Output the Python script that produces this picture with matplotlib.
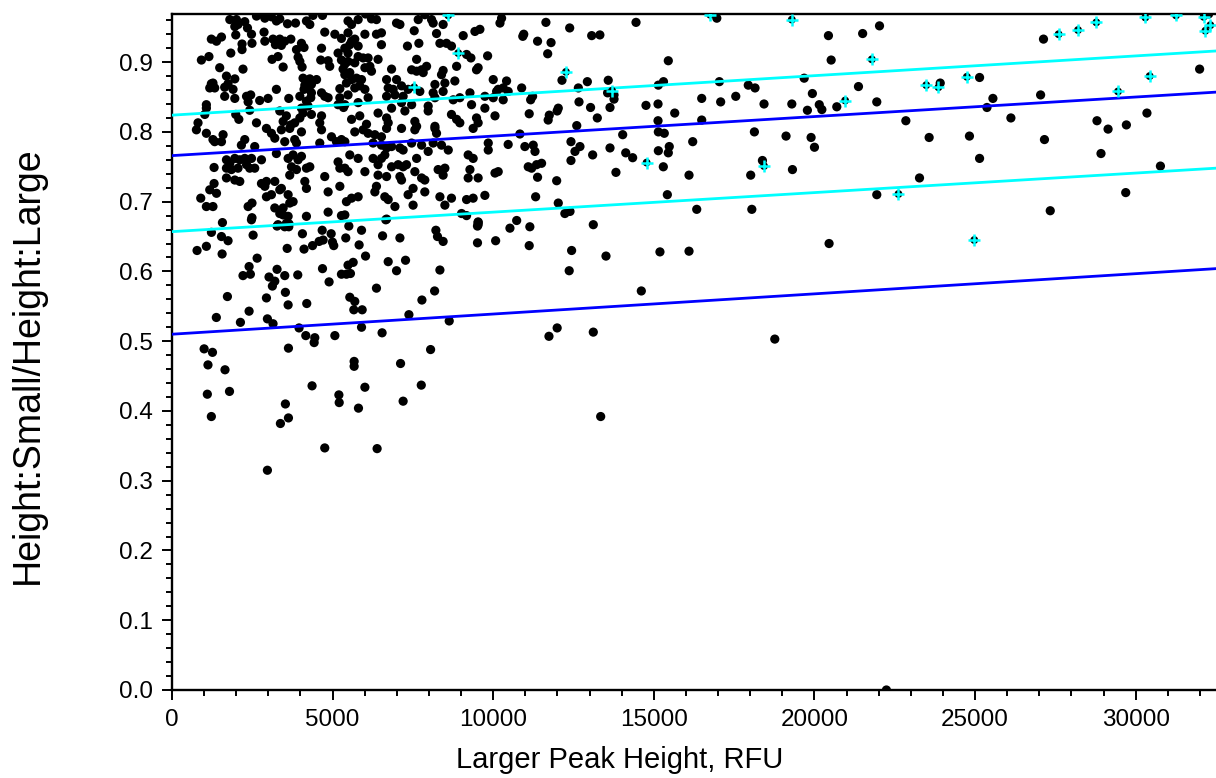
import numpy as np
import matplotlib.pyplot as plt
from matplotlib.ticker import MultipleLocator, FormatStrFormatter

# (larger peak height in RFU, height ratio small/large), grouped by area of the plot
top_left = [
    (1800, 0.961), (2005, 0.961), (2265, 0.958), (2630, 0.966), (2785, 0.969), (2890, 0.963),
    (3095, 0.965), (3250, 0.959), (3355, 0.962), (3595, 0.955), (3845, 0.956), (4185, 0.959),
    (4290, 0.954), (4390, 0.967), (4685, 0.967), (1955, 0.951), (2055, 0.954), (2350, 0.949),
    (2475, 0.940), (1985, 0.939), (1225, 0.933), (1385, 0.930), (1540, 0.936), (2180, 0.926),
    (2180, 0.918), (2490, 0.927), (2865, 0.943), (2890, 0.930), (3145, 0.933), (3355, 0.933),
    (3510, 0.930), (3700, 0.933), (3220, 0.925), (3405, 0.924), (4030, 0.927), (4110, 0.921),
    (3875, 0.918), (4755, 0.943), (4655, 0.920), (5070, 0.940), (5275, 0.934), (1830, 0.913),
    (915, 0.903), (1150, 0.908), (2210, 0.890), (1485, 0.892), (3115, 0.904), (3300, 0.908),
    (3460, 0.893), (3925, 0.907), (3980, 0.901), (4050, 0.893), (4290, 0.876), (4630, 0.903),
    (4860, 0.902), (4910, 0.894), (5170, 0.913), (5275, 0.903), (5325, 0.890), (1695, 0.880),
    (1955, 0.876), (1225, 0.869), (1175, 0.863), (1330, 0.863), (1275, 0.870), (1640, 0.864),
    (1745, 0.869), (1900, 0.861), (1640, 0.851), (1955, 0.848), (1070, 0.839), (1070, 0.834),
    (1020, 0.825), (810, 0.813), (1985, 0.825), (2080, 0.818), (2320, 0.851), (2450, 0.853),
    (2370, 0.843), (2730, 0.845), (2990, 0.848), (2420, 0.831), (2630, 0.813), (3250, 0.861),
    (3355, 0.830), (3560, 0.823), (3635, 0.848), (3820, 0.813), (3700, 0.810), (3980, 0.851),
    (4030, 0.834), (4135, 0.867), (4110, 0.861), (4260, 0.863), (4340, 0.868), (4340, 0.856),
    (4320, 0.849), (4185, 0.844), (4235, 0.837), (4080, 0.827), (4340, 0.825), (4655, 0.856),
    (4755, 0.851), (4860, 0.849), (4655, 0.823), (4600, 0.813), (3980, 0.820), (5225, 0.862),
    (5225, 0.849), (5170, 0.839), (5340, 0.835), (4500, 0.875), (4080, 0.877), (3460, 0.815),
]

top_mid = [
    (6025, 0.969), (5795, 0.961), (5590, 0.954), (5480, 0.959), (6210, 0.962), (6365, 0.961),
    (6990, 0.956), (7095, 0.954), (7665, 0.961), (7870, 0.968), (8080, 0.961), (8130, 0.956),
    (8440, 0.954), (10210, 0.956), (10260, 0.963), (5480, 0.942), (5590, 0.930), (5535, 0.925),
    (5690, 0.933), (6005, 0.940), (6365, 0.940), (6520, 0.942), (6520, 0.925), (5795, 0.923),
    (5380, 0.920), (5480, 0.913), (7540, 0.945), (8235, 0.941), (7330, 0.923), (7685, 0.927),
    (8340, 0.927), (8545, 0.927), (8700, 0.923), (9065, 0.938), (9430, 0.944), (9585, 0.947),
    (9170, 0.911), (9305, 0.906), (9825, 0.909), (5795, 0.908), (5950, 0.906), (6105, 0.906),
    (5480, 0.901), (5690, 0.899), (6160, 0.894), (6005, 0.892), (6210, 0.887), (6415, 0.904),
    (5380, 0.897), (5535, 0.885), (6835, 0.890), (7615, 0.904), (7460, 0.889), (7615, 0.887),
    (7770, 0.889), (7925, 0.894), (7820, 0.885), (8440, 0.888), (8390, 0.882), (8860, 0.894),
    (9530, 0.892), (9480, 0.889), (5380, 0.882), (5430, 0.870), (5590, 0.875), (5745, 0.877),
    (5845, 0.866), (5690, 0.863), (5900, 0.875), (6005, 0.861), (6105, 0.849), (5795, 0.842),
    (5380, 0.839), (6680, 0.875), (6730, 0.863), (6885, 0.861), (6990, 0.875), (7145, 0.866),
    (6680, 0.851), (6940, 0.853), (7350, 0.861), (7715, 0.858), (7145, 0.842), (7460, 0.839),
    (7195, 0.851), (7975, 0.837), (8185, 0.868), (8130, 0.856), (8440, 0.858), (8495, 0.870),
    (8185, 0.849), (8805, 0.873), (8755, 0.846), (8960, 0.849), (9275, 0.856), (9740, 0.851),
    (10000, 0.875), (10000, 0.849), (10155, 0.861), (10310, 0.863), (10465, 0.858), (10105, 0.858),
    (10415, 0.873), (5480, 0.853), (6835, 0.834), (7250, 0.830), (6415, 0.827), (5845, 0.823),
    (5590, 0.818), (6055, 0.811), (6680, 0.820), (6730, 0.813), (7560, 0.815), (7615, 0.808),
    (8185, 0.808), (8700, 0.825), (8860, 0.818), (8960, 0.813), (9325, 0.839), (9740, 0.834),
    (10055, 0.823), (9480, 0.820), (9530, 0.813), (7975, 0.830),
]

middle_left = [
    (760, 0.803), (1070, 0.798), (1275, 0.789), (1330, 0.786), (1590, 0.796), (1540, 0.786),
    (2265, 0.789), (2160, 0.781), (2575, 0.779), (2940, 0.805), (3095, 0.798), (3200, 0.791),
    (3405, 0.803), (3665, 0.805), (3510, 0.786), (3820, 0.789), (4030, 0.800), (3875, 0.784),
    (4655, 0.803), (4965, 0.793), (5120, 0.786), (5275, 0.789), (4600, 0.784), (1310, 0.749),
    (1695, 0.760), (1800, 0.755), (1955, 0.762), (2110, 0.760), (2265, 0.762), (2475, 0.762),
    (1695, 0.748), (1850, 0.746), (2055, 0.748), (2320, 0.753), (2420, 0.748), (1695, 0.734),
    (1955, 0.731), (2110, 0.729), (2575, 0.748), (2785, 0.760), (1310, 0.726), (895, 0.705),
    (1175, 0.717), (1385, 0.712), (1070, 0.693), (1275, 0.693), (3250, 0.769), (3615, 0.762),
    (3770, 0.767), (3925, 0.760), (4030, 0.765), (3720, 0.750), (3875, 0.746), (3665, 0.738),
    (4185, 0.748), (4290, 0.750), (2785, 0.726), (2890, 0.722), (2940, 0.729), (3200, 0.729),
    (3405, 0.719), (3355, 0.717), (2940, 0.707), (3095, 0.710), (3615, 0.710), (3665, 0.698),
    (3770, 0.700), (4135, 0.729), (4185, 0.719), (4755, 0.736), (4860, 0.714), (5225, 0.722),
    (5170, 0.757), (5225, 0.748), (2370, 0.693), (2490, 0.698), (2490, 0.677), (3200, 0.691),
    (3355, 0.683), (3460, 0.691), (3460, 0.681), (3615, 0.679), (3300, 0.667), (3560, 0.669),
    (3635, 0.664), (4185, 0.679), (4860, 0.685), (5275, 0.680),
]

middle_mid = [
    (5690, 0.800), (5950, 0.803), (6105, 0.798), (6315, 0.796), (6520, 0.793), (6680, 0.805),
    (7145, 0.805), (7560, 0.803), (8185, 0.805), (8235, 0.798), (9375, 0.805), (5380, 0.786),
    (6260, 0.784), (6520, 0.781), (6680, 0.777), (6835, 0.779), (7095, 0.777), (7195, 0.774),
    (7460, 0.784), (7770, 0.781), (8130, 0.784), (8390, 0.781), (8600, 0.774), (7975, 0.772),
    (9845, 0.784), (9845, 0.774), (10465, 0.782), (9220, 0.767), (9375, 0.762), (5795, 0.762),
    (5535, 0.767), (6260, 0.762), (6415, 0.753), (6520, 0.762), (6625, 0.767), (6835, 0.750),
    (7040, 0.753), (7195, 0.750), (7300, 0.753), (7615, 0.762), (5380, 0.748), (5480, 0.743),
    (6005, 0.743), (6415, 0.738), (6680, 0.736), (7095, 0.736), (7145, 0.731), (7560, 0.743),
    (7770, 0.734), (7870, 0.731), (8285, 0.746), (8495, 0.748), (8440, 0.738), (9275, 0.746),
    (9220, 0.734), (9530, 0.734), (10055, 0.741), (10155, 0.743), (6365, 0.722), (6315, 0.714),
    (7505, 0.719), (7870, 0.714), (5795, 0.707), (5590, 0.705), (5430, 0.700), (6625, 0.707),
    (6730, 0.703), (7350, 0.710), (6940, 0.693), (7505, 0.695), (8340, 0.707), (8700, 0.705),
    (8495, 0.695), (9170, 0.703), (9375, 0.705), (9740, 0.709), (5380, 0.681), (6680, 0.675),
    (9015, 0.683), (9170, 0.680), (9530, 0.671), (9530, 0.667),
]

lower_left = [
    (1570, 0.670), (2473, 0.674), (1227, 0.656), (1540, 0.650), (1745, 0.644), (2525, 0.652),
    (780, 0.630), (1070, 0.636), (1560, 0.625), (2650, 0.619), (3270, 0.665), (3510, 0.664),
    (3645, 0.668), (4060, 0.654), (4110, 0.632), (4375, 0.637), (3585, 0.633), (4675, 0.659),
    (4955, 0.654), (4580, 0.643), (4705, 0.645), (4995, 0.642), (5035, 0.637), (5410, 0.648),
    (5505, 0.665), (5900, 0.659), (5825, 0.638), (6025, 0.622), (6555, 0.651), (7095, 0.648),
    (6655, 0.674), (8215, 0.659), (8265, 0.650), (8440, 0.643), (9510, 0.665), (9530, 0.670),
    (9510, 0.641), (10075, 0.644), (6730, 0.614), (7270, 0.616), (6990, 0.601), (8340, 0.602),
    (2210, 0.594), (2400, 0.607), (2440, 0.596), (3020, 0.592), (3200, 0.586), (3125, 0.579),
    (3270, 0.603), (3510, 0.594), (3915, 0.595), (4685, 0.604), (4890, 0.585), (5275, 0.596),
    (5430, 0.596), (5555, 0.597), (5480, 0.609), (5640, 0.613), (6365, 0.576), (1725, 0.564),
    (1380, 0.534), (2130, 0.527), (2400, 0.543), (2940, 0.562), (2970, 0.532), (3145, 0.525),
    (3530, 0.570), (3615, 0.552), (4195, 0.554), (3955, 0.519), (4165, 0.508), (4445, 0.505),
    (4425, 0.498), (5070, 0.508), (5535, 0.563), (5690, 0.557), (5660, 0.545), (5920, 0.545),
    (5900, 0.520), (6540, 0.512), (7375, 0.538), (7780, 0.559), (8175, 0.572), (8630, 0.529),
    (1000, 0.489), (1260, 0.484), (1120, 0.466), (1650, 0.459), (1100, 0.424), (1790, 0.428),
    (1225, 0.392), (3625, 0.490), (3530, 0.410), (3375, 0.382), (3625, 0.390), (4360, 0.436),
    (5195, 0.423), (5205, 0.412), (5670, 0.471), (5670, 0.464), (6005, 0.434), (5805, 0.404),
    (7115, 0.468), (7195, 0.414), (7760, 0.437), (8050, 0.488), (4755, 0.347), (6385, 0.346),
    (2970, 0.315),
]

right_side = [
    (11640, 0.957), (12380, 0.949), (14445, 0.957), (16960, 0.963), (20435, 0.938), (21500, 0.941),
    (22025, 0.952), (10950, 0.940), (10920, 0.937), (11380, 0.930), (11800, 0.928), (11695, 0.912),
    (13065, 0.938), (13320, 0.939), (15450, 0.902), (20520, 0.903), (12140, 0.874), (10885, 0.863),
    (12650, 0.863), (12930, 0.872), (13580, 0.874), (13560, 0.856), (13760, 0.853), (13760, 0.847),
    (15140, 0.867), (15300, 0.872), (17040, 0.872), (17940, 0.867), (18150, 0.863), (19680, 0.877),
    (21370, 0.865), (10310, 0.846), (11165, 0.846), (11225, 0.851), (11120, 0.826), (11745, 0.824),
    (11710, 0.817), (12025, 0.834), (11990, 0.830), (12670, 0.843), (13030, 0.835), (13240, 0.820),
    (13635, 0.835), (14755, 0.838), (15130, 0.840), (15130, 0.816), (15650, 0.827), (16490, 0.848),
    (16490, 0.817), (17080, 0.843), (17550, 0.851), (18430, 0.840), (19295, 0.840), (19780, 0.831),
    (19935, 0.855), (20150, 0.839), (20230, 0.832), (20695, 0.836), (12600, 0.809), (10830, 0.797),
    (10985, 0.779), (11245, 0.781), (11300, 0.772), (12420, 0.786), (12700, 0.779), (12545, 0.772),
    (12420, 0.759), (13095, 0.767), (13635, 0.777), (14030, 0.796), (14125, 0.770), (14340, 0.763),
    (15140, 0.800), (15140, 0.773), (15325, 0.798), (15480, 0.779), (15450, 0.770), (16210, 0.786),
    (15295, 0.750), (18130, 0.800), (19115, 0.794), (19895, 0.792), (20000, 0.778), (18380, 0.759),
    (19315, 0.746), (11090, 0.750), (11195, 0.748), (11350, 0.753), (11505, 0.755), (11380, 0.735),
    (11975, 0.730), (13820, 0.742), (16095, 0.738), (18015, 0.738), (11320, 0.707), (12025, 0.698),
    (12230, 0.683), (12390, 0.686), (15420, 0.710), (16335, 0.689), (18050, 0.689), (10730, 0.673),
    (10520, 0.662), (11140, 0.664), (13115, 0.667), (11120, 0.637), (12440, 0.630), (13510, 0.622),
    (12365, 0.601), (15190, 0.628), (16095, 0.629), (20455, 0.640), (14610, 0.572), (11990, 0.519),
    (11735, 0.507), (13115, 0.513), (18765, 0.503), (13345, 0.392), (21940, 0.843), (22845, 0.816),
    (23570, 0.792), (23915, 0.870), (25140, 0.878), (25555, 0.848), (25370, 0.835), (26115, 0.820),
    (24825, 0.794), (25140, 0.762), (23270, 0.734), (21940, 0.710), (27340, 0.687), (27130, 0.933),
    (32270, 0.969), (31990, 0.890), (27040, 0.853), (28795, 0.816), (29140, 0.804), (29710, 0.810),
    (30350, 0.827), (27160, 0.789), (28920, 0.769), (30770, 0.751), (29690, 0.713), (22240, 0.0),
]

# flagged peaks, drawn with a cyan cross over the dot
flagged = [
    (16750, 0.968), (19295, 0.961), (12265, 0.886), (13700, 0.859), (14775, 0.756), (18430, 0.751),
    (20955, 0.845), (21785, 0.904), (23480, 0.867), (23860, 0.864), (24745, 0.879), (22615, 0.711),
    (24975, 0.645), (27600, 0.940), (28205, 0.946), (28775, 0.957), (30300, 0.964), (31255, 0.967),
    (32115, 0.965), (32170, 0.945), (32325, 0.953), (30435, 0.880), (29450, 0.858), (8600, 0.967),
    (8910, 0.913), (7540, 0.864),
]

# guide lines, given by their ends at 0 and 32500 RFU
line_ends = [0, 32500]
cyan_upper = [0.824, 0.916]
blue_upper = [0.766, 0.857]
cyan_lower = [0.657, 0.748]
blue_lower = [0.510, 0.604]

pts = np.array(top_left + top_mid + middle_left + middle_mid + lower_left + right_side)
flg = np.array(flagged)

plt.rcParams['font.family'] = ['Liberation Sans', 'DejaVu Sans']
fig = plt.figure(figsize=(12.16, 7.78), dpi=100)
ax = fig.add_axes([172 / 1216, 88 / 778, 1 - 172 / 1216, 676 / 778])

ax.scatter(pts[:, 0], pts[:, 1], s=44, c='black', edgecolors='none', zorder=2)
ax.scatter(flg[:, 0], flg[:, 1], s=32, c='black', edgecolors='none', zorder=4)
ax.scatter(flg[:, 0], flg[:, 1], marker='+', s=80, c='cyan', linewidths=1.8, zorder=5)

ax.plot(line_ends, cyan_upper, color='cyan', lw=2.0, zorder=3)
ax.plot(line_ends, blue_upper, color='blue', lw=2.0, zorder=3)
ax.plot(line_ends, cyan_lower, color='cyan', lw=2.0, zorder=3)
ax.plot(line_ends, blue_lower, color='blue', lw=2.0, zorder=3)

ax.set_xlim(0, 32500)
ax.set_ylim(0, 0.969)
ax.xaxis.set_major_locator(MultipleLocator(5000))
ax.xaxis.set_minor_locator(MultipleLocator(1000))
ax.yaxis.set_major_locator(MultipleLocator(0.1))
ax.yaxis.set_minor_locator(MultipleLocator(0.02))
ax.yaxis.set_major_formatter(FormatStrFormatter('%.1f'))
ax.xaxis.set_major_formatter(FormatStrFormatter('%d'))

ax.tick_params(which='major', direction='out', length=7, width=1.4, labelsize=17.5, pad=7)
ax.tick_params(which='minor', direction='out', length=4.5, width=1.4)
ax.tick_params(top=False, right=False)
ax.spines['right'].set_visible(False)
for s in ['top', 'left', 'bottom']:
    ax.spines[s].set_linewidth(1.7)

ax.set_xlabel('Larger Peak Height, RFU', fontsize=21)
ax.xaxis.set_label_coords(0.429, -0.083)
ax.set_ylabel('Height:Small/Height:Large', fontsize=27)
ax.yaxis.set_label_coords(-0.121, 0.481)

fig.savefig('out.png', dpi=100)
